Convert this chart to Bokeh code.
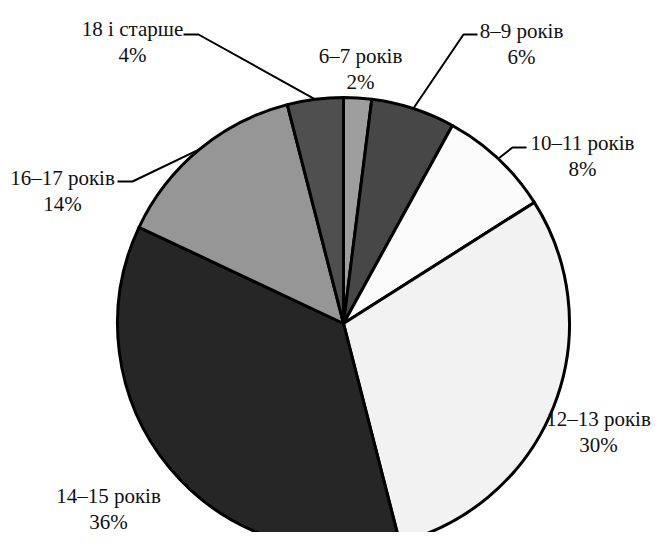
import math
from bokeh.plotting import figure
from bokeh.models import Range1d, ColumnDataSource, Label
from bokeh.core.properties import value
from bokeh.embed import file_html
from bokeh.resources import INLINE

# ---- data ----
categories = ["6–7 років", "8–9 років", "10–11 років", "12–13 років",
              "14–15 років", "16–17 років", "18 і старше"]
shares = [2, 6, 8, 30, 36, 14, 4]
pct_labels = ["2%", "6%", "8%", "30%", "36%", "14%", "4%"]
colors = ["#9e9e9e", "#474747", "#fbfbfb", "#f2f2f2", "#262626", "#969696", "#4f4f4f"]

# ---- layout (pixel offsets relative to pie centre, y up) ----
R = 226
label_x = [17, 178, 239, 255, -235, -281, -211]
label_y1 = [268, 293, 181, -95, -172, 146, 295]
line_gap = 26
leaders = [None, ((120, 289), (134, 289)), ((169, 176), (183, 176)), None, None,
           ((-211, 142), (-226, 142)), ((-145, 289), (-160, 289))]

W, H = 651, 532
CX, CY = 343, 323
p = figure(width=W, height=H, output_backend="svg", toolbar_location=None,
           x_range=Range1d(-CX, W - CX), y_range=Range1d(CY - H, CY),
           x_axis_location=None, y_axis_location=None, min_border=0)
p.xgrid.grid_line_color = None
p.ygrid.grid_line_color = None
p.outline_line_color = None

total = sum(shares)
starts, ends, mids = [], [], []
cum = 0
for s in shares:
    a0 = math.pi / 2 - 2 * math.pi * cum / total
    cum += s
    a1 = math.pi / 2 - 2 * math.pi * cum / total
    starts.append(a0); ends.append(a1); mids.append((a0 + a1) / 2)

# invisible warm-up text so the serif face is resolved before the labels
p.text(x=[0] * len(categories), y=[0] * len(categories), text=categories,
       text_font=value("Liberation Serif"), text_font_size="21px", text_alpha=0)

src = ColumnDataSource(dict(x=[0] * len(shares), y=[0] * len(shares),
                            start=starts, end=ends, color=colors))
p.wedge(x="x", y="y", radius=R, start_angle="start", end_angle="end",
        direction="clock", fill_color="color", line_color="black",
        line_width=3, line_join="round", source=src)

for i, ld in enumerate(leaders):
    if ld is None:
        continue
    ex = R * math.cos(mids[i]); ey = R * math.sin(mids[i])
    (bx, by), (cx, cy) = ld
    p.line([ex, bx, cx], [ey, by, cy], line_color="black", line_width=2)

for i in range(len(categories)):
    for txt, yy in ((categories[i], label_y1[i]), (pct_labels[i], label_y1[i] - line_gap)):
        p.add_layout(Label(x=label_x[i], y=yy, text=txt, text_font="Liberation Serif",
                           text_font_size="21px", text_align="center",
                           text_baseline="alphabetic", text_color="#111111"))

open("out.html", "w").write(file_html(p, INLINE))
